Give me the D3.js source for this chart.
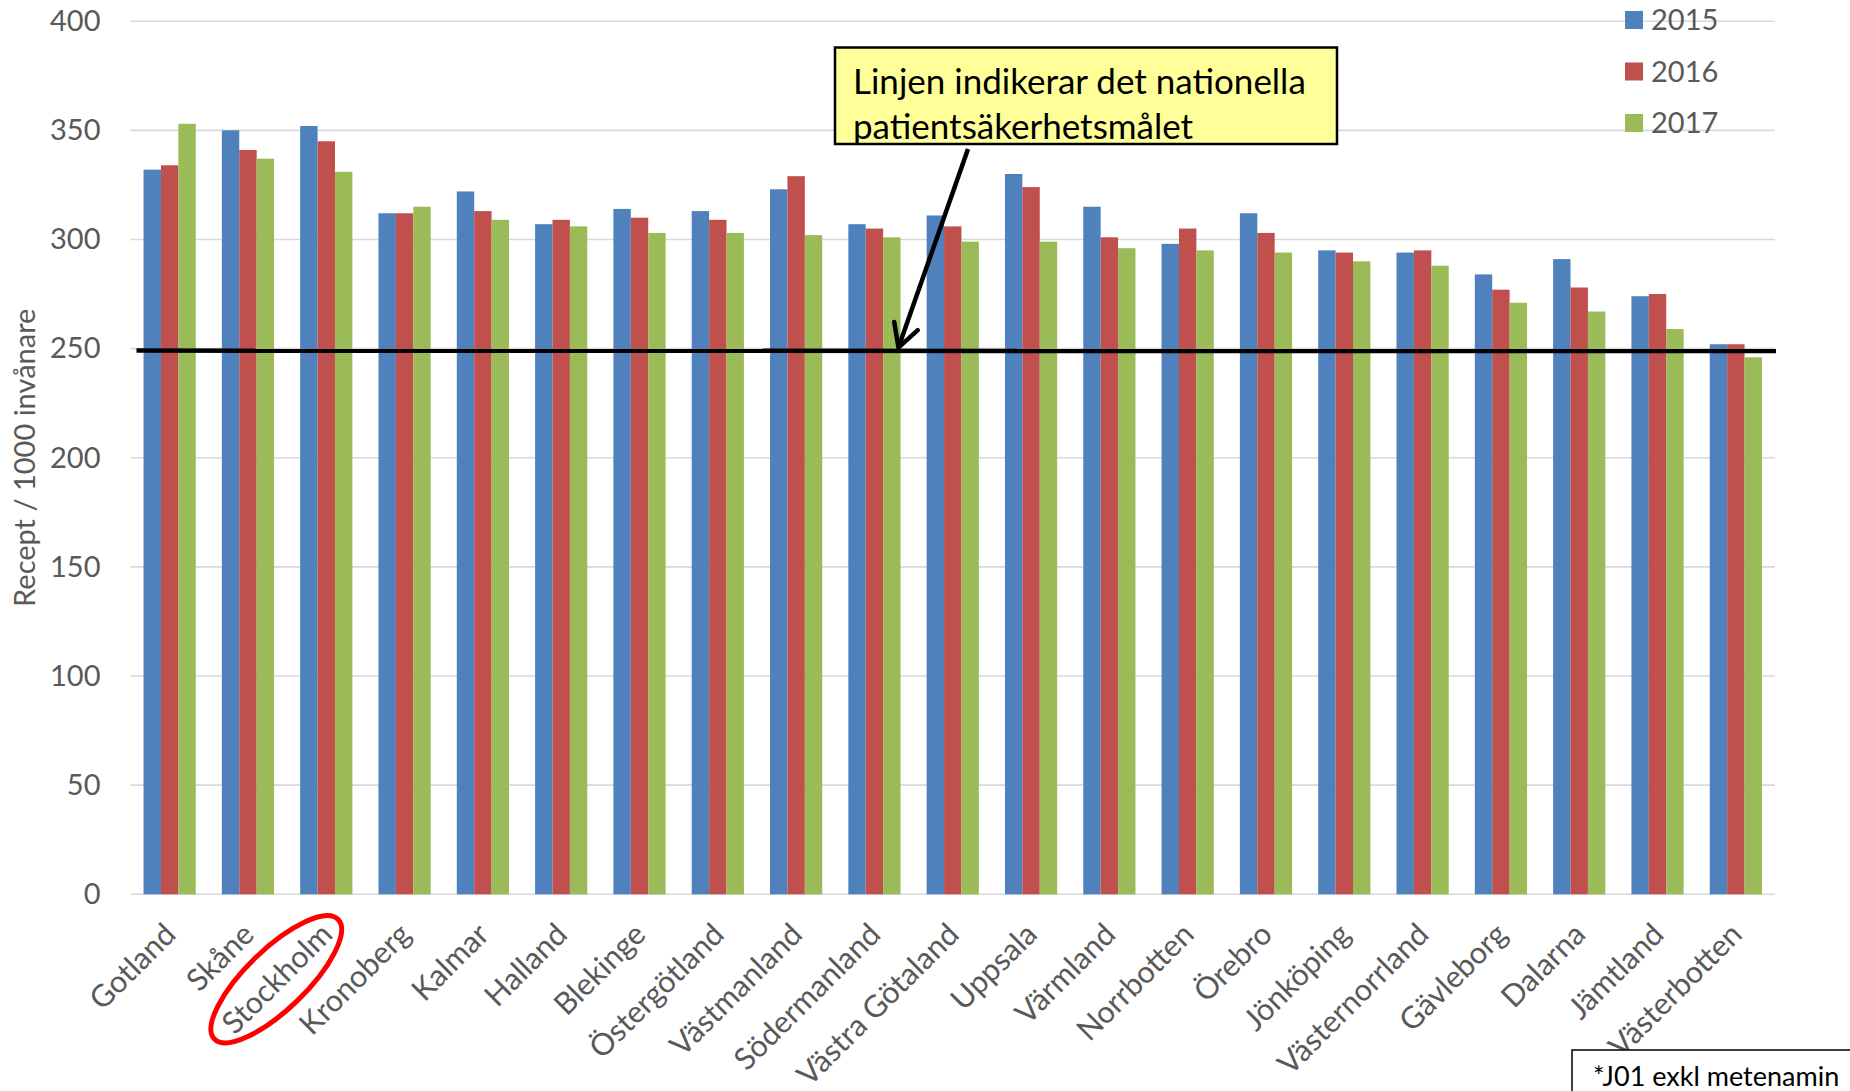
<!DOCTYPE html>
<html>
<head>
<meta charset="utf-8">
<script src="https://cdnjs.cloudflare.com/ajax/libs/d3/7.8.5/d3.min.js"></script>
<style>
    body { margin: 0; background: #fff; }
    svg { display: block; font-family: Lato, 'Open Sans', sans-serif; }
</style>
</head>
<body>
<div id="chart"></div>
<script>
// data
var regions = ['Gotland', 'Skåne', 'Stockholm', 'Kronoberg', 'Kalmar', 'Halland', 'Blekinge',
    'Östergötland', 'Västmanland', 'Södermanland', 'Västra Götaland', 'Uppsala', 'Värmland',
    'Norrbotten', 'Örebro', 'Jönköping', 'Västernorrland', 'Gävleborg', 'Dalarna', 'Jämtland',
    'Västerbotten'];
var years = ['2015', '2016', '2017'];
var values2015 = [332, 350, 352, 312, 322, 307, 314, 313, 323, 307, 311, 330, 315, 298, 312, 295, 294, 284, 291, 274, 252];
var values2016 = [334, 341, 345, 312, 313, 309, 310, 309, 329, 305, 306, 324, 301, 305, 303, 294, 295, 277, 278, 275, 252];
var values2017 = [353, 337, 331, 315, 309, 306, 303, 303, 302, 301, 299, 299, 296, 295, 294, 290, 288, 271, 267, 259, 246];
var yTicks = [0, 50, 100, 150, 200, 250, 300, 350, 400];
var target = 250;
var highlighted = 'Stockholm';

var seriesValues = {
    '2015': values2015,
    '2016': values2016,
    '2017': values2017
};

var width = 1850,
    height = 1091,
    plot = { left: 130.5, right: 1775, top: 21.2, bottom: 894.3 };

var colors = d3.scaleOrdinal()
    .domain(years)
    .range(['#4f81bd', '#c0504d', '#9bbb59']);

var svg = d3.select('#chart')
    .append('svg')
    .attr('width', width)
    .attr('height', height);

// scales
var x0 = d3.scaleBand()
    .domain(regions)
    .range([plot.left, plot.right])
    .padding(0);

var x1 = d3.scaleBand()
    .domain(years)
    .range([0, x0.bandwidth()])
    .paddingInner(0)
    .paddingOuter(0.75);

var y = d3.scaleLinear()
    .domain([0, 400])
    .range([plot.bottom, plot.top]);

// gridlines
svg.append('g')
    .selectAll('line')
    .data(yTicks)
    .enter()
    .append('line')
    .attr('x1', plot.left)
    .attr('x2', plot.right)
    .attr('y1', function(d) { return y(d) })
    .attr('y2', function(d) { return y(d) })
    .attr('stroke', '#d9d9d9')
    .attr('stroke-width', 1.6);

// y axis labels
var yAxis = svg.append('g')
    .attr('transform', 'translate(' + (plot.left - 30) + ',0)')
    .call(d3.axisLeft(y).tickValues(yTicks).tickSize(0).tickPadding(0));
yAxis.select('.domain').remove();
yAxis.selectAll('text')
    .attr('fill', '#595959')
    .style('font-family', 'Lato, sans-serif')
    .style('font-size', '29px');

// axis title
svg.append('text')
    .attr('transform', 'translate(35,' + y(200) + ') rotate(-90)')
    .attr('text-anchor', 'middle')
    .attr('fill', '#595959')
    .style('font-size', '29px')
    .text('Recept / 1000 invånare');

// bars
var groups = svg.append('g')
    .selectAll('g')
    .data(regions)
    .enter()
    .append('g')
    .attr('transform', function(d) { return 'translate(' + x0(d) + ',0)' });

groups.selectAll('rect')
    .data(function(d, i) {
        return years.map(function(yr) {
            return { year: yr, value: seriesValues[yr][i] };
        });
    })
    .enter()
    .append('rect')
    .attr('x', function(d) { return x1(d.year) })
    .attr('width', x1.bandwidth())
    .attr('y', function(d) { return y(d.value) })
    .attr('height', function(d) { return y(0) - y(d.value) })
    .attr('fill', function(d) { return colors(d.year) });

// category labels, rotated
svg.append('g')
    .selectAll('text')
    .data(regions)
    .enter()
    .append('text')
    .attr('transform', function(d) {
        var cx = x0(d) + x0.bandwidth() / 2 + 8;
        return 'translate(' + cx + ',' + (plot.bottom + 42) + ') rotate(-45)';
    })
    .attr('text-anchor', 'end')
    .attr('fill', '#595959')
    .style('font-size', '30.5px')
    .text(function(d) { return d });

// red ring round the highlighted region
var hx = x0(highlighted) + x0.bandwidth() / 2;
svg.append('ellipse')
    .attr('transform', 'translate(' + (hx - 50) + ',' + (plot.bottom + 85) + ') rotate(-44)')
    .attr('rx', 86)
    .attr('ry', 30)
    .attr('fill', 'none')
    .attr('stroke', '#ff0000')
    .attr('stroke-width', 5);

// target line
svg.append('line')
    .attr('x1', plot.left + 6)
    .attr('x2', plot.right + 1)
    .attr('y1', y(target) + 2)
    .attr('y2', y(target) + 2.5)
    .attr('stroke', '#000')
    .attr('stroke-width', 4.5);

// callout box
svg.append('rect')
    .attr('x', 835)
    .attr('y', 47.5)
    .attr('width', 502)
    .attr('height', 96.5)
    .attr('fill', '#ffff99')
    .attr('stroke', '#000')
    .attr('stroke-width', 2.5);

svg.append('text')
    .attr('x', 853)
    .attr('y', 94)
    .attr('fill', '#000')
    .style('font-size', '35px')
    .text('Linjen indikerar det nationella');

svg.append('text')
    .attr('x', 853)
    .attr('y', 139)
    .attr('fill', '#000')
    .style('font-size', '35px')
    .text('patientsäkerhetsmålet');

// arrow from callout to target line
var tipX = x0('Södermanland') + x0.bandwidth() / 2 + 24,
    tipY = y(target) - 1,
    startX = 968,
    startY = 149;
var ang = Math.atan2(startY - tipY, startX - tipX),
    wing = 26,
    spread = 0.5;

svg.append('line')
    .attr('x1', startX)
    .attr('y1', startY)
    .attr('x2', tipX)
    .attr('y2', tipY)
    .attr('stroke', '#000')
    .attr('stroke-width', 4.5);

svg.append('path')
    .attr('d', 'M' + (tipX + wing * Math.cos(ang - spread)) + ',' + (tipY + wing * Math.sin(ang - spread)) +
        'L' + tipX + ',' + tipY +
        'L' + (tipX + wing * Math.cos(ang + spread)) + ',' + (tipY + wing * Math.sin(ang + spread)))
    .attr('fill', 'none')
    .attr('stroke', '#000')
    .attr('stroke-width', 4.5)
    .attr('stroke-linecap', 'round');

// legend
var legend = svg.append('g')
    .selectAll('g')
    .data(years)
    .enter()
    .append('g')
    .attr('transform', function(d, i) { return 'translate(1625,' + (11 + i * 51.5) + ')' });

legend.append('rect')
    .attr('width', 18)
    .attr('height', 18)
    .attr('fill', function(d) { return colors(d) });

legend.append('text')
    .attr('x', 26)
    .attr('y', 9)
    .attr('dy', '0.36em')
    .attr('fill', '#595959')
    .style('font-size', '29px')
    .text(function(d) { return d });

// footnote box
svg.append('rect')
    .attr('x', 1572)
    .attr('y', 1050)
    .attr('width', 300)
    .attr('height', 80)
    .attr('fill', '#fff')
    .attr('stroke', '#000')
    .attr('stroke-width', 1.5);

svg.append('text')
    .attr('x', 1593)
    .attr('y', 1086)
    .attr('fill', '#000')
    .style('font-size', '27px')
    .text('*J01 exkl metenamin');
</script>
</body>
</html>
